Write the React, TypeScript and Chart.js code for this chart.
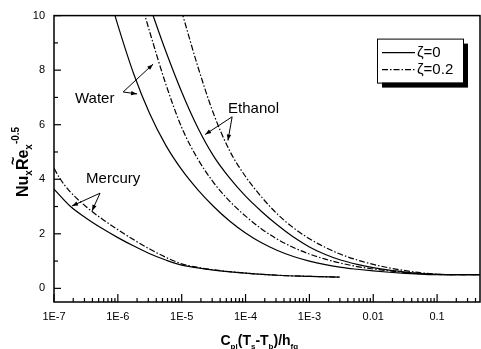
import React, { useEffect, useRef } from 'react';
import { Chart, registerables } from 'chart.js';

Chart.register(...registerables);

const X_MIN = 1e-7;
const X_MAX = 0.47;
const Y_MIN = -0.5;
const Y_MAX = 10;

const xTickValues = [1e-7, 1e-6, 1e-5, 1e-4, 1e-3, 0.01, 0.1];
const xTickLabels = ['1E-7', '1E-6', '1E-5', '1E-4', '1E-3', '0.01', '0.1'];
const yTickValues = [0, 2, 4, 6, 8, 10];
const yMinorTickValues = [1, 3, 5, 7, 9];

const mercurySolidX = [1e-7, 1.78e-7, 3.16e-7, 5.62e-7, 1e-6, 1.78e-6, 3.16e-6, 5.62e-6, 1e-5, 1.78e-5, 3.16e-5, 1e-4, 3.16e-4, 1e-3, 3.0e-3];
const mercurySolidY = [3.64, 3.02, 2.58, 2.2, 1.86, 1.55, 1.27, 1.04, 0.85, 0.75, 0.67, 0.56, 0.48, 0.44, 0.41];
const mercuryDashX = [1e-7, 1.26e-7, 1.78e-7, 3.16e-7, 5.62e-7, 1e-6, 1.78e-6, 3.16e-6, 5.62e-6, 1e-5, 1.78e-5, 3.16e-5, 1e-4, 3.16e-4, 1e-3, 3.0e-3];
const mercuryDashY = [4.4, 4.0, 3.55, 3.0, 2.55, 2.15, 1.78, 1.44, 1.14, 0.9, 0.77, 0.68, 0.56, 0.48, 0.44, 0.41];

const waterSolidX = [7.94e-7, 1e-6, 1.78e-6, 3.16e-6, 5.62e-6, 1e-5, 1.78e-5, 3.16e-5, 5.62e-5, 1e-4, 1.78e-4, 3.16e-4, 5.62e-4, 1e-3, 1.78e-3, 3.16e-3, 5.62e-3, 0.01, 0.0178, 0.0316, 0.0562, 0.1, 0.47];
const waterSolidY = [10.45, 9.65, 7.85, 6.4, 5.25, 4.35, 3.62, 3.0, 2.47, 2.03, 1.67, 1.39, 1.17, 1.0, 0.87, 0.77, 0.7, 0.64, 0.59, 0.55, 0.52, 0.5, 0.5];
const waterDashX = [2.51e-6, 3.16e-6, 5.62e-6, 1e-5, 1.78e-5, 3.16e-5, 5.62e-5, 1e-4, 1.78e-4, 3.16e-4, 5.62e-4, 1e-3, 1.78e-3, 3.16e-3, 5.62e-3, 0.01, 0.0178, 0.0316, 0.0562, 0.1, 0.47];
const waterDashY = [10.2, 9.4, 7.5, 5.9, 4.75, 3.88, 3.2, 2.65, 2.18, 1.8, 1.5, 1.26, 1.07, 0.92, 0.8, 0.71, 0.64, 0.58, 0.54, 0.51, 0.5];

const ethanolSolidX = [3.16e-6, 5.62e-6, 1e-5, 1.78e-5, 3.16e-5, 5.62e-5, 1e-4, 1.78e-4, 3.16e-4, 5.62e-4, 1e-3, 1.78e-3, 3.16e-3, 5.62e-3, 0.01, 0.0178, 0.0316, 0.0562, 0.1, 0.2, 0.47];
const ethanolSolidY = [10.35, 8.7, 7.2, 5.9, 4.85, 4.05, 3.38, 2.82, 2.32, 1.88, 1.52, 1.24, 1.03, 0.88, 0.76, 0.67, 0.6, 0.54, 0.51, 0.5, 0.5];
const ethanolDashX = [1e-5, 1.78e-5, 3.16e-5, 5.62e-5, 1e-4, 1.78e-4, 3.16e-4, 5.62e-4, 1e-3, 1.78e-3, 3.16e-3, 5.62e-3, 0.01, 0.0178, 0.0316, 0.0562, 0.1, 0.2, 0.47];
const ethanolDashY = [10.15, 8.15, 6.4, 5.05, 4.1, 3.35, 2.72, 2.22, 1.82, 1.5, 1.24, 1.04, 0.88, 0.75, 0.65, 0.57, 0.52, 0.5, 0.5];

const legendLabels = ['ζ=0', 'ζ=0.2'];

// annotation labels: text anchor (left, baseline), arrow tail, arrow tips — in data coordinates
const annotationTexts = ['Water', 'Ethanol', 'Mercury'];
const annotationTextPos = [[2.13e-7, 6.8], [5.33e-5, 6.44], [3.18e-7, 3.85]];
const annotationTails = [[1.21e-6, 7.2], [6.17e-5, 6.29], [5.26e-7, 3.49]];
const annotationTips = [
  [[3.56e-6, 8.22], [2.0e-6, 7.13]],
  [[2.33e-5, 5.64], [5.3e-5, 5.42]],
  [[1.91e-7, 3.02], [3.94e-7, 2.84]],
];

const DASH = [6, 2, 1.5, 2];
const FONT = '"Liberation Sans", Arial, Helvetica, sans-serif';

function pts(xs: number[], ys: number[]) {
  return xs.map((x, i) => ({ x, y: ys[i] }));
}

function drawArrow(ctx: CanvasRenderingContext2D, x0: number, y0: number, x1: number, y1: number) {
  ctx.beginPath();
  ctx.moveTo(x0, y0);
  ctx.lineTo(x1, y1);
  ctx.stroke();
  const a = Math.atan2(y1 - y0, x1 - x0);
  const L = 6;
  const W = 2.2;
  ctx.beginPath();
  ctx.moveTo(x1, y1);
  ctx.lineTo(x1 - L * Math.cos(a) + W * Math.sin(a), y1 - L * Math.sin(a) - W * Math.cos(a));
  ctx.lineTo(x1 - L * Math.cos(a) - W * Math.sin(a), y1 - L * Math.sin(a) + W * Math.cos(a));
  ctx.closePath();
  ctx.fill();
}

type Part = { t: string; size: number; dy: number; bold?: boolean };

function drawParts(ctx: CanvasRenderingContext2D, parts: Part[], x: number, y: number) {
  let cx = x;
  const positions: number[] = [];
  for (const p of parts) {
    ctx.font = `${p.bold === false ? '' : 'bold '}${p.size}px ${FONT}`;
    positions.push(cx);
    ctx.fillText(p.t, cx, y + p.dy);
    cx += ctx.measureText(p.t).width;
  }
  return positions;
}

function measureParts(ctx: CanvasRenderingContext2D, parts: Part[]) {
  let w = 0;
  for (const p of parts) {
    ctx.font = `${p.bold === false ? '' : 'bold '}${p.size}px ${FONT}`;
    w += ctx.measureText(p.t).width;
  }
  return w;
}

function line(ctx: CanvasRenderingContext2D, x0: number, y0: number, x1: number, y1: number) {
  ctx.beginPath();
  ctx.moveTo(x0, y0);
  ctx.lineTo(x1, y1);
  ctx.stroke();
}

const decorPlugin = {
  id: 'decor',
  afterDraw(chart: any) {
    const ctx: CanvasRenderingContext2D = chart.ctx;
    const xs = chart.scales.x;
    const ys = chart.scales.y;
    const { left, right, top, bottom } = chart.chartArea;
    const px = (v: number) => xs.getPixelForValue(v);
    const py = (v: number) => ys.getPixelForValue(v);
    ctx.save();
    ctx.setLineDash([]);
    ctx.strokeStyle = '#000';
    ctx.fillStyle = '#000';

    // frame
    ctx.lineWidth = 1.5;
    ctx.strokeRect(left, top, right - left, bottom - top);

    // ticks (inside)
    ctx.lineWidth = 1.2;
    for (const v of yTickValues) {
      const y = py(v);
      line(ctx, left, y, left + 7, y);
    }
    for (const v of yMinorTickValues) {
      const y = py(v);
      line(ctx, left, y, left + 4, y);
    }
    for (const d of xTickValues) {
      const x = px(d);
      line(ctx, x, bottom, x, bottom - 8);
      for (let k = 2; k <= 9; k++) {
        const v = d * k;
        if (v > X_MAX) break;
        const xm = px(v);
        line(ctx, xm, bottom, xm, bottom - 4);
      }
    }

    // annotations
    ctx.font = `15px ${FONT}`;
    ctx.textBaseline = 'alphabetic';
    ctx.textAlign = 'left';
    ctx.lineWidth = 1;
    annotationTexts.forEach((t, i) => {
      const [tx, ty] = annotationTextPos[i];
      ctx.fillText(t, px(tx), py(ty));
      const [ax, ay] = annotationTails[i];
      for (const [bx, by] of annotationTips[i]) {
        drawArrow(ctx, px(ax), py(ay), px(bx), py(by));
      }
    });

    // legend
    const lx = right - 103;
    const ly = top + 23;
    const lw = 86;
    const lh = 44;
    ctx.fillStyle = '#000';
    ctx.fillRect(lx + 5, ly + 5, lw, lh);
    ctx.fillStyle = '#fff';
    ctx.fillRect(lx, ly, lw, lh);
    ctx.lineWidth = 1;
    ctx.strokeStyle = '#000';
    ctx.strokeRect(lx + 0.5, ly + 0.5, lw, lh);
    ctx.fillStyle = '#000';
    ctx.lineWidth = 1.2;
    line(ctx, lx + 5, ly + 14, lx + 38, ly + 14);
    ctx.setLineDash(DASH);
    line(ctx, lx + 5, ly + 31, lx + 38, ly + 31);
    ctx.setLineDash([]);
    ctx.font = `15px ${FONT}`;
    ctx.textBaseline = 'middle';
    ctx.fillText(legendLabels[0], lx + 40, ly + 14);
    ctx.fillText(legendLabels[1], lx + 40, ly + 31);

    // x axis title: C_pl(T_s-T_b)/h_fg
    ctx.textBaseline = 'alphabetic';
    const xParts: Part[] = [
      { t: 'C', size: 14, dy: 0 },
      { t: 'pl', size: 8, dy: 4 },
      { t: '(T', size: 14, dy: 0 },
      { t: 's', size: 8, dy: 4 },
      { t: '-T', size: 14, dy: 0 },
      { t: 'b', size: 8, dy: 4 },
      { t: ')/h', size: 14, dy: 0 },
      { t: 'fg', size: 8, dy: 4 },
    ];
    const xw = measureParts(ctx, xParts);
    const xc = left + (right - left) * 0.482;
    drawParts(ctx, xParts, xc - xw / 2, 345);

    // y axis title: Nu_x R̃e_x^-0.5 (rotated)
    ctx.save();
    ctx.translate(28, 197);
    ctx.rotate(-Math.PI / 2);
    const yParts: Part[] = [
      { t: 'Nu', size: 16, dy: 0 },
      { t: 'x', size: 10, dy: 4 },
      { t: 'Re', size: 16, dy: 0 },
      { t: 'x', size: 10, dy: 4 },
      { t: '-0.5', size: 10, dy: -9 },
    ];
    const pos = drawParts(ctx, yParts, 0, 0);
    ctx.font = `bold 14px ${FONT}`;
    ctx.fillText('~', pos[2] + 5, -10);
    ctx.restore();

    ctx.restore();
  },
};

export default function App() {
  const ref = useRef<HTMLCanvasElement>(null);
  useEffect(() => {
    const canvas = ref.current!;
    const mk = (xs: number[], ys: number[], dashed: boolean) => ({
      data: pts(xs, ys),
      borderColor: '#000',
      backgroundColor: '#000',
      borderWidth: 1.2,
      borderDash: dashed ? DASH : [],
      pointRadius: 0,
      fill: false,
      showLine: true,
      cubicInterpolationMode: 'monotone' as const,
    });
    const chart = new Chart(canvas, {
      type: 'line',
      data: {
        datasets: [
          mk(mercurySolidX, mercurySolidY, false),
          mk(mercuryDashX, mercuryDashY, true),
          mk(waterSolidX, waterSolidY, false),
          mk(waterDashX, waterDashY, true),
          mk(ethanolSolidX, ethanolSolidY, false),
          mk(ethanolDashX, ethanolDashY, true),
        ],
      },
      options: {
        responsive: false,
        animation: false,
        devicePixelRatio: 1,
        layout: { padding: { left: 0, right: 1, top: 13, bottom: 0 } },
        plugins: { legend: { display: false }, tooltip: { enabled: false } },
        scales: {
          x: {
            type: 'logarithmic',
            min: X_MIN,
            max: X_MAX,
            afterBuildTicks: (s: any) => {
              s.ticks = xTickValues.map((v) => ({ value: v }));
            },
            afterFit: (s: any) => {
              s.height = 47;
            },
            grid: { display: false, drawTicks: false },
            border: { display: false },
            ticks: {
              autoSkip: false,
              maxRotation: 0,
              padding: 8,
              color: '#000',
              font: { family: FONT, size: 11 },
              callback: (_v: any, i: number) => xTickLabels[i],
            },
          },
          y: {
            type: 'linear',
            min: Y_MIN,
            max: Y_MAX,
            afterBuildTicks: (s: any) => {
              s.ticks = yTickValues.map((v) => ({ value: v }));
            },
            afterFit: (s: any) => {
              s.width = 54;
            },
            grid: { display: false, drawTicks: false },
            border: { display: false },
            ticks: {
              padding: 9,
              color: '#000',
              font: { family: FONT, size: 11 },
              callback: (v: any) => String(v),
            },
          },
        },
      },
      plugins: [decorPlugin],
    });
    return () => chart.destroy();
  }, []);
  return (
    <div style={{ position: 'absolute', left: 0, top: 0, width: 481, height: 349, background: '#fff' }}>
      <canvas ref={ref} width={481} height={349} />
    </div>
  );
}
